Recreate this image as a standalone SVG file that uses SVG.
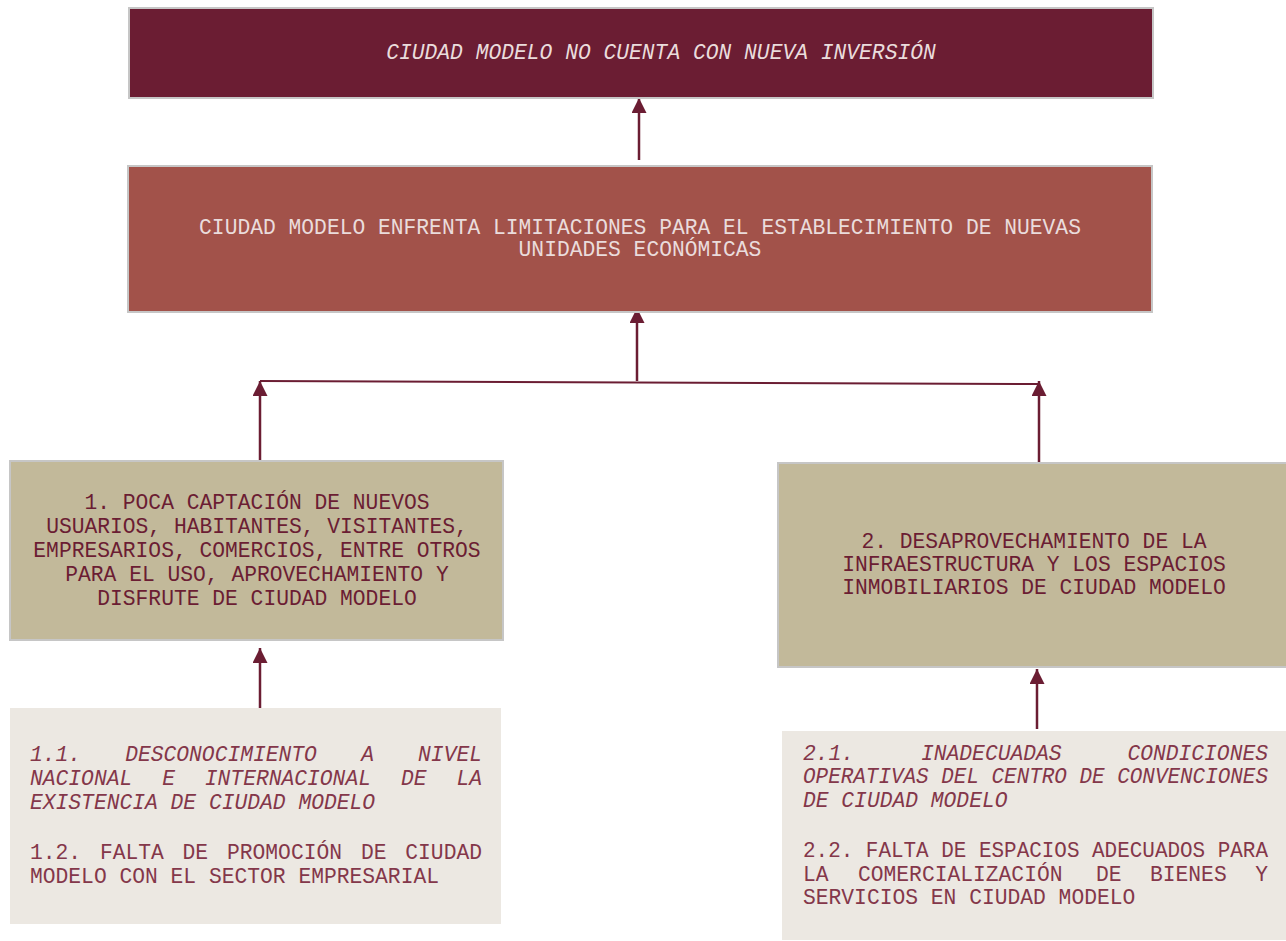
<svg xmlns="http://www.w3.org/2000/svg" width="1286" height="941" viewBox="0 0 1286 941">
<style>
text{font-family:"Liberation Mono","Courier New",monospace;font-size:21.3px}
.c{text-anchor:middle}
.e{text-anchor:end}
.i{font-style:italic}
.w{fill:#eadcdc}
.d{fill:#6b1d33}
.l{fill:#84374a}
.r{font-size:21px}
.bx{stroke:#c6c6c6;stroke-width:2}
.cn{stroke:#6b1d33;stroke-width:2.5;fill:none}
</style>
<defs>
<marker id="ah" viewBox="0 0 10 10" refX="10" refY="5" markerWidth="6" markerHeight="6" orient="auto" markerUnits="strokeWidth">
<path d="M0,0 L10,5 L0,10 z" fill="#6b1d33"/>
</marker>
</defs>
<g id="connectors">
<line class="cn" x1="639" y1="160" x2="639" y2="98" marker-end="url(#ah)"/>
<line class="cn" x1="637" y1="381" x2="637" y2="308" marker-end="url(#ah)"/>
<line class="cn" x1="260" y1="381" x2="1039" y2="384" style="stroke-width:2"/>
<line class="cn" x1="260" y1="463" x2="260" y2="381" marker-end="url(#ah)"/>
<line class="cn" x1="1039" y1="466" x2="1039" y2="381" marker-end="url(#ah)"/>
<line class="cn" x1="260" y1="708" x2="260" y2="648" marker-end="url(#ah)"/>
<line class="cn" x1="1037" y1="729" x2="1037" y2="669" marker-end="url(#ah)"/>
</g>
<g id="n0">
<rect class="bx" x="129" y="8" width="1024" height="90" fill="#6b1d33"/>
<text class="c i w" x="661" y="59">CIUDAD MODELO NO CUENTA CON NUEVA INVERSIÓN</text>
</g>
<g id="n1">
<rect class="bx" x="128" y="166" width="1024" height="146" fill="#a2524a"/>
<text class="c w" x="640" y="234">CIUDAD MODELO ENFRENTA LIMITACIONES PARA EL ESTABLECIMIENTO DE NUEVAS</text>
<text class="c w" x="640" y="256">UNIDADES ECONÓMICAS</text>
</g>
<g id="n2">
<rect class="bx" x="10" y="461" width="493" height="179" fill="#c2b99a"/>
<text class="c d" x="257" y="509">1. POCA CAPTACIÓN DE NUEVOS</text>
<text class="c d" x="257" y="533">USUARIOS, HABITANTES, VISITANTES,</text>
<text class="c d" x="257" y="557">EMPRESARIOS, COMERCIOS, ENTRE OTROS</text>
<text class="c d" x="257" y="581">PARA EL USO, APROVECHAMIENTO Y</text>
<text class="c d" x="257" y="605">DISFRUTE DE CIUDAD MODELO</text>
</g>
<g id="n3">
<rect class="bx" x="778" y="463" width="510" height="204" fill="#c2b99a"/>
<text class="c d" x="1034" y="548">2. DESAPROVECHAMIENTO DE LA</text>
<text class="c d" x="1034" y="571">INFRAESTRUCTURA Y LOS ESPACIOS</text>
<text class="c d" x="1034" y="594">INMOBILIARIOS DE CIUDAD MODELO</text>
</g>
<g id="n4">
<rect x="10" y="708" width="491" height="216" fill="#ece8e2"/>
<g class="i l">
<text x="30" y="761">1.1.</text><text x="125.2" y="761">DESCONOCIMIENTO</text><text x="361.2" y="761">A</text><text class="e" x="482" y="761">NIVEL</text>
<text x="30" y="785">NACIONAL</text><text x="162.2" y="785">E</text><text x="204.8" y="785">INTERNACIONAL</text><text x="401" y="785">DE</text><text class="e" x="482" y="785">LA</text>
<text x="30" y="809">EXISTENCIA DE CIUDAD MODELO</text>
</g>
<g class="l">
<text x="30" y="859">1.2.</text><text x="99.9" y="859">FALTA</text><text x="182.6" y="859">DE</text><text x="227" y="859">PROMOCIÓN</text><text x="360.9" y="859">DE</text><text class="e" x="482" y="859">CIUDAD</text>
<text x="30" y="883">MODELO CON EL SECTOR EMPRESARIAL</text>
</g>
</g>
<g id="n5">
<rect x="782" y="731" width="504" height="209" fill="#ece8e2"/>
<g class="i l r">
<text x="803" y="760">2.1.</text><text x="921" y="760">INADECUADAS</text><text class="e" x="1268" y="760">CONDICIONES</text>
<text x="803" y="783" textLength="465" lengthAdjust="spacingAndGlyphs">OPERATIVAS DEL CENTRO DE CONVENCIONES</text>
<text x="803" y="807">DE CIUDAD MODELO</text>
</g>
<g class="l r">
<text x="803" y="857" textLength="465" lengthAdjust="spacingAndGlyphs">2.2. FALTA DE ESPACIOS ADECUADOS PARA</text>
<text x="803" y="881">LA</text><text x="858" y="881">COMERCIALIZACIÓN</text><text x="1096" y="881">DE</text><text x="1150" y="881">BIENES</text><text class="e" x="1268" y="881">Y</text>
<text x="803" y="904">SERVICIOS EN CIUDAD MODELO</text>
</g>
</g>
</svg>
